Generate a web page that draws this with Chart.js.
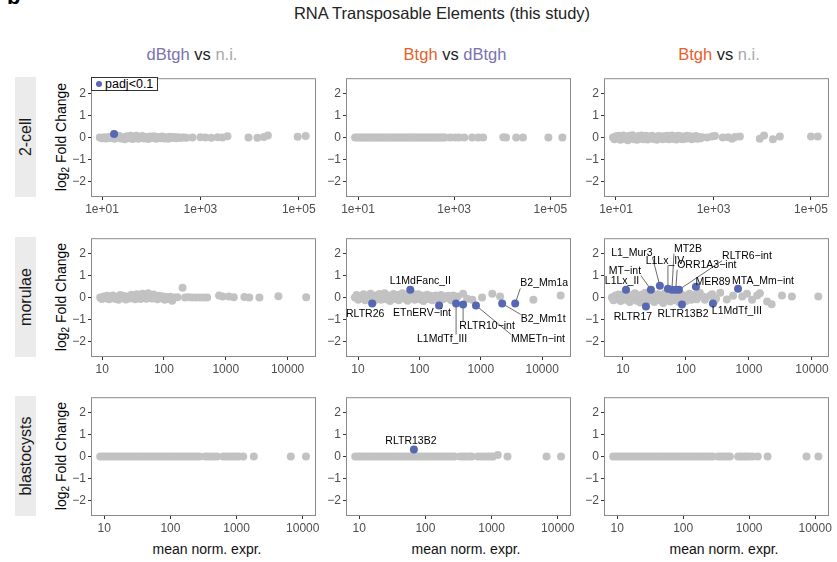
<!DOCTYPE html>
<html lang="en">
<head>
<meta charset="UTF-8">
<title>RNA Transposable Elements (this study)</title>
<script src="https://cdn.jsdelivr.net/npm/chart.js"></script>
<style>
  body { margin: 0; background: #fff; font-family: "Liberation Sans", Arial, sans-serif; }
  #fig { position: relative; width: 837px; height: 562px; overflow: hidden; }
  #fig canvas { position: absolute; }
  .t { position: absolute; white-space: nowrap; line-height: 20px; }
  .rot { position: absolute; white-space: nowrap; transform: translate(-50%, -50%) rotate(-90deg); }
  .strip { position: absolute; left: 15px; width: 21px; height: 120px; background: #ebebeb; }
  .ytitle { font-size: 14px; color: #000; }
  .ytitle sub { font-size: 10px; vertical-align: -3px; line-height: 0; }
  .xtitle { font-size: 14px; color: #111; transform: translateX(-50%); }
  .ctitle { font-size: 16.5px; transform: translateX(-50%); }
  .blue { color: #7a72b2; } .orange { color: #e8602c; } .grey { color: #a8a8a8; } .vs { color: #222; }
  #legend { position: absolute; left: 91px; top: 77px; width: 65px; height: 12px; border: 1px solid #333;
            background: #fff; font-size: 12.5px; line-height: 12px; z-index: 2; }
  #legend span { display: inline-block; width: 6px; height: 6px; border-radius: 3px; background: #5668b3;
                 margin: 0 3px 0 4px; vertical-align: 1px; }
</style>
</head>
<body>
<div id="fig">
  <div class="t" style="left:7px;top:-14px;font-size:22px;font-weight:bold;line-height:22px;">b</div>
  <div class="t" style="left:442px;top:3px;font-size:16.5px;color:#222;transform:translateX(-50%);">RNA Transposable Elements (this study)</div>

  <div class="t ctitle" style="left:192px;top:44px;"><span class="blue">dBtgh</span> <span class="vs">vs</span> <span class="grey">n.i.</span></div>
  <div class="t ctitle" style="left:455px;top:44px;"><span class="orange">Btgh</span> <span class="vs">vs</span> <span class="blue">dBtgh</span></div>
  <div class="t ctitle" style="left:719px;top:44px;"><span class="orange">Btgh</span> <span class="vs">vs</span> <span class="grey">n.i.</span></div>

  <div class="strip" style="top:77px;"></div>
  <div class="strip" style="top:237px;"></div>
  <div class="strip" style="top:396px;"></div>
  <div class="rot" style="left:26px;top:137px;font-size:16px;color:#1a1a1a;">2-cell</div>
  <div class="rot" style="left:26px;top:297px;font-size:16px;color:#1a1a1a;">morulae</div>
  <div class="rot" style="left:26px;top:456px;font-size:16px;color:#1a1a1a;">blastocysts</div>

  <div class="rot ytitle" style="left:61px;top:137px;">log<sub>2</sub> Fold Change</div>
  <div class="rot ytitle" style="left:61px;top:297px;">log<sub>2</sub> Fold Change</div>
  <div class="rot ytitle" style="left:61px;top:456px;">log<sub>2</sub> Fold Change</div>

  <div class="t xtitle" style="left:207px;top:539px;">mean norm. expr.</div>
  <div class="t xtitle" style="left:466px;top:539px;">mean norm. expr.</div>
  <div class="t xtitle" style="left:724px;top:539px;">mean norm. expr.</div>

  <div id="legend"><span></span>padj&lt;0.1</div>
</div>

<script>
// ---- data: [mean norm. expr., log2 fold change] ----

// 2-cell
const cell2_dBtgh_ni = [
  [9,0],[10,-0.03],[11,0.02],[12,-0.04],[13.5,0.03],[15,-0.02],[16.5,0.05],[18,-0.05],[20,0.03],[22,0.08],
  [24,-0.04],[26.5,0.02],[29,-0.07],[32,0.06],[35,-0.03],[38,0.09],[42,-0.06],[46,0.04],[50,0.08],[55,-0.05],
  [60,0.02],[66,0.07],[72,-0.04],[79,0.03],[87,-0.06],[95,0.05],[105,-0.02],[115,0.06],[126,-0.05],[138,0.03],
  [152,-0.03],[167,0.05],[183,-0.04],[200,0.02],[220,-0.05],[242,0.04],[265,-0.02],[292,0.03],[320,-0.03],
  [352,0.02],[387,-0.02],[425,0.01],[470,0],[520,-0.01],
  [690,0],[1000,0.02],[1260,0],[1660,-0.01],[2240,0.02],[2800,0],[3550,0.06],[9500,0],[14400,-0.01],
  [19500,0.03],[23500,0.1],[95000,0.04],[138000,0.07]
];
const cell2_dBtgh_ni_sig = [[null, 17.6, 0.17]];

const cell2_Btgh_dBtgh = [
  [8.7,0],[9.5,0],[10.4,0],[11.4,0],[12.5,0],[13.7,0],[15,0],[16.5,0],[18,0],[19.8,0],[21.7,0],[23.8,0],
  [26,0],[28.5,0],[31.3,0],[34.3,0],[37.6,0],[41.2,0],[45,0],[49.5,0],[54,0],[59,0],[65,0],[71,0],[78,0],
  [86,0],[94,0],[103,0],[113,0],[124,0],[136,0],[149,0],[163,0],[179,0],[196,0],[215,0],[236,0],[259,0],
  [284,0],[311,0],[341,0],[374,0],[410,0],[450,0],[494,0],[542,0],[594,0],[640,0],
  [830,0],[1050,0],[1260,0.01],[1620,0],[2370,0],[3160,0],[4000,0],[10500,0.02],[12000,0],[19500,0],
  [27000,0],[91000,0],[178000,0]
];
const cell2_Btgh_dBtgh_sig = [];

const cell2_Btgh_ni = [
  [8.7,0],[9.3,-0.08],[10,0.06],[10.7,-0.03],[11.5,0.09],[12.3,-0.1],[13.2,0.02],[14.2,0.1],[15.2,-0.06],
  [16.3,0.04],[17.5,-0.12],[18.8,0.08],[20.2,-0.02],[21.7,0.11],[23.3,-0.08],[25,0.03],[27,-0.1],[29,0.07],
  [31,-0.04],[33.5,0.1],[36,-0.07],[38.5,0.02],[41.5,0.08],[44.5,-0.09],[48,0.04],[51.5,-0.03],[55,0.09],
  [59,-0.06],[64,0.03],[69,-0.1],[74,0.07],[79,-0.02],[85,0.05],[91,-0.08],[98,0.06],[105,-0.04],[113,0.09],
  [121,-0.07],[130,0.02],[140,0.1],[150,-0.06],[161,0.04],[173,-0.09],[186,0.08],[200,-0.03],[215,0.06],
  [231,-0.08],[248,0.04],[266,-0.05],[286,0.09],[307,-0.02],[330,0.06],[355,-0.07],[381,0.04],[410,-0.04],
  [440,0.07],[473,-0.05],[508,0.03],[545,-0.03],[580,0.02],
  [740,0],[930,0.05],[1070,0.07],[1550,0],[2000,0.02],[2400,-0.05],[2750,0.03],[3470,0.05],[8900,-0.05],
  [10900,0.1],[16600,-0.08],[23000,0.05],[100000,0.05],[138000,0.05]
];
const cell2_Btgh_ni_sig = [];

// morulae
const mor_dBtgh_ni = [
  [9.3,0],[9.9,-0.06],[10.6,0.05],[11.3,-0.03],[12.1,0.08],[13,-0.08],[13.9,0.02],[14.9,0.1],[16,-0.05],
  [17.2,0.04],[18.4,-0.1],[19.7,0.12],[21.1,-0.02],[22.6,0.07],[24.2,-0.09],[26,0.05],[27.8,-0.04],
  [29.8,0.13],[32,0.02],[34.2,-0.08],[36.7,0.15],[39.3,0.06],[42,-0.06],[45,0.18],[48.3,0.08],[51.8,-0.05],
  [55.5,0.2],[59.5,0.1],[63.7,-0.04],[68.3,0.14],[73.2,0.02],[78.4,-0.07],[84,0.08],[90,-0.03],[96.5,0.05],
  [103,-0.1],[111,0.03],[119,-0.06],[127,0.04],[136,-0.14],[146,0],
  [165,0.02],[200,0.45],[220,0],[250,0.02],[285,0],[330,0.01],[380,0],[440,0],[500,0],[780,0.1],[890,0.05],
  [1120,0.05],[1350,0.02],[2000,0.03],[2400,0],[3500,0],[7100,0.06],[20000,0.02]
];
const mor_dBtgh_ni_sig = [];

const mor_Btgh_dBtgh = [
  [8.9,0],[9.5,0.12],[10.1,-0.1],[10.8,0.05],[11.5,-0.02],[12.3,0.15],[13.1,-0.12],[14,0.08],[15,-0.05],
  [16,0.18],[17.1,0.02],[18.3,-0.15],[19.5,0.1],[20.9,-0.04],[22.3,0.16],[23.8,-0.1],[25.4,0.04],[27.2,0.2],
  [29,-0.08],[31,0.1],[33.1,-0.15],[35.4,0.02],[37.8,0.17],[40.4,-0.06],[43.2,0.12],[46.1,-0.12],[49.3,0.06],
  [52.6,0.2],[56.2,-0.04],[60,0.14],[64,-0.14],[68.5,0.08],[73,-0.02],[78,0.18],[83.5,-0.1],[89,0.05],
  [95,0.15],[102,-0.08],[109,0.1],[116,-0.16],[124,0.02],[133,0.13],[142,-0.06],[151,0.08],[162,-0.12],
  [173,0.04],[185,0.1],[197,-0.05],[211,0.02],[225,0.12],[240,-0.08],[257,0.05],[275,-0.02],[294,0.08],
  [330,-0.12],[355,0.1],[420,0.05],[515,0.18],[600,-0.05],[730,-0.1],[1050,0],[1540,0.18],[2060,0.05],
  [7200,-0.1],[20000,0.1]
];
const mor_Btgh_dBtgh_sig = [
  ['RLTR26', 17, -0.27], ['L1MdFanc_II', 71, 0.36], ['ETnERV\u2212int', 209, -0.36],
  ['L1MdTf_III', 396, -0.27], ['RLTR10\u2212int', 515, -0.32], ['MMETn\u2212int', 835, -0.36],
  ['B2_Mm1t', 2230, -0.27], ['B2_Mm1a', 3640, -0.27]
];

const mor_Btgh_ni = [
  [6.7,0],[7.1,-0.12],[7.6,0.1],[8.1,-0.05],[8.6,0.14],[9.2,-0.15],[9.8,0.03],[10.5,0.18],[11.2,-0.1],
  [12,0.06],[12.8,-0.2],[13.6,0.12],[14.5,-0.04],[15.5,0.2],[16.5,-0.14],[17.6,0.05],[18.8,-0.22],[20,0.14],
  [21.4,-0.06],[22.8,0.22],[24.3,-0.16],[26,0.08],[27.7,-0.1],[29.5,0.18],[31.5,-0.2],[33.6,0.02],[35.8,0.15],
  [38.2,-0.12],[40.8,0.1],[43.5,-0.25],[46.4,0.2],[49.5,-0.05],[52.8,0.12],[56.3,-0.18],[60,0.06],[64,0.2],
  [68.3,-0.12],[72.8,0.03],[77.7,-0.2],[82.9,0.15],[88.4,-0.05],[94.3,0.1],[100,-0.15],[107,0.05],[114,0.18],
  [122,-0.1],[130,0.02],[139,0.12],[148,-0.08],[158,0.05],
  [166,0.22],[186,0.05],[200,-0.1],[240,0.09],[260,0.15],[280,-0.15],[300,-0.05],[350,0.22],[445,-0.09],
  [560,0.09],[780,0.05],[930,0.18],[1120,-0.1],[1350,0.1],[1490,0.2],[1940,-0.18],[2290,-0.3],[3340,0.1],
  [4800,0.05],[12600,0.05]
];
const mor_Btgh_ni_sig = [
  ['L1Lx_II', 11.2, 0.36], ['MT\u2212int', 27.8, 0.36], ['L1_Mur3', 38.6, 0.54], ['L1Lx_IV', 51.8, 0.41],
  ['MT2B', 60, 0.36], ['ORR1A3\u2212int', 69, 0.36], ['RLTR6\u2212int', 77.5, 0.36], ['MER89', 144, 0.5],
  ['MTA_Mm\u2212int', 670, 0.41], ['RLTR17', 23.2, -0.41], ['RLTR13B2', 86.5, -0.32], ['L1MdTf_III', 268, -0.27]
];

// blastocysts
const bla_dBtgh_ni = [
  [8.7,0],[9.6,0],[10.5,0],[11.6,0],[12.8,0],[14,0],[15.5,0],[17,0],[18.8,0],[20.7,0],[22.8,0],[25,0],
  [27.6,0],[30.4,0],[33.5,0],[36.8,0],[40.5,0],[44.6,0],[49,0],[54,0],[59.5,0],[65.5,0],[72,0],[79,0],
  [87,0],[96,0],[106,0],[116,0],[128,0],[141,0],[155,0],[171,0],[188,0],[207,0],[228,0],[251,0],[276,0],
  [335,0],[370,0],[410,0],[460,0],[510,0],[630,0],[700,0],[780,0],[870,0],[960,0],[1070,0],[1260,0],
  [1820,0],[6600,0],[11200,0]
];
const bla_dBtgh_ni_sig = [];

const bla_Btgh_dBtgh = [
  [8.7,0],[9.6,0],[10.5,0],[11.6,0],[12.8,0],[14,0],[15.5,0],[17,0],[18.8,0],[20.7,0],[22.8,0],[25,0],
  [27.6,0],[30.4,0],[33.5,0],[36.8,0],[40.5,0],[44.6,0],[49,0],[54,0],[59.5,0],[65.5,0],[72,0],[79,0],
  [87,0],[96,0],[106,0],[116,0],[128,0],[141,0],[155,0],[171,0],[188,0],[207,0],[228,0],[251,0],[275,0],
  [335,0],[370,0],[410,0],[460,0],[500,0],[620,0],[690,0],[770,0],[860,0],[950,0],[1050,0],[1240,0.07],
  [1740,0],[6760,0],[11200,0]
];
const bla_Btgh_dBtgh_sig = [['RLTR13B2', 67, 0.32]];

const bla_Btgh_ni = [
  [8.7,0],[9.6,0],[10.5,0],[11.6,0],[12.8,0],[14,0],[15.5,0],[17,0],[18.8,0],[20.7,0],[22.8,0],[25,0],
  [27.6,0],[30.4,0],[33.5,0],[36.8,0],[40.5,0],[44.6,0],[49,0],[54,0],[59.5,0],[65.5,0],[72,0],[79,0],
  [87,0],[96,0],[106,0],[116,0],[128,0],[141,0],[155,0],[171,0],[188,0],[207,0],[228,0],[251,0],[280,0],
  [340,0],[375,0],[415,0],[465,0],[510,0],[680,0],[750,0],[830,0],[910,0],[1000,0],[1120,0],[1350,0],
  [1900,0],[7400,0],[11200,0]
];
const bla_Btgh_ni_sig = [];

// axes
const yTicks = [-2, -1, 0, 1, 2];
const yLimits = [-2.72, 2.72];
const xTicksTop = [10, 1000, 100000];
const xTickTextTop = ['1e+01', '1e+03', '1e+05'];
const xTicksLow = [10, 100, 1000, 10000];
const xTickTextLow = ['10', '100', '1000', '10000'];
// log10 of the x-axis limits, panel by panel (row-major)
const xLimitsLog = [[0.776, 5.35], [0.75, 5.43], [0.754, 5.37],
                    [0.82, 4.46], [0.804, 4.47], [0.70, 4.27],
                    [0.80, 4.2], [0.80, 4.2], [0.80, 4.21]];

// label placement (px from the point): [dx, dy, leader line]
const morBvsD_offsets = {
  'RLTR26': [-7, 11, 0], 'L1MdFanc_II': [10, -9, 0], 'ETnERV\u2212int': [-17, 8, 0],
  'L1MdTf_III': [-14, 36, 1], 'RLTR10\u2212int': [24, 22, 1], 'MMETn\u2212int': [62, 34, 1],
  'B2_Mm1t': [41, 16, 1], 'B2_Mm1a': [29, -20, 1]
};
const morBvsN_offsets = {
  'L1Lx_II': [-4, -9, 0], 'MT\u2212int': [-26, -19, 1], 'L1_Mur3': [-28, -33, 1], 'L1Lx_IV': [-3, -28, 1],
  'MT2B': [16, -41, 1], 'ORR1A3\u2212int': [31, -25, 1], 'RLTR6\u2212int': [68, -34, 1],
  'MER89': [17, -5, 0], 'MTA_Mm\u2212int': [25, -8, 0], 'RLTR17': [-13, 11, 0],
  'RLTR13B2': [1, 10, 0], 'L1MdTf_III': [24, 8, 0]
};
const blaBvsD_offsets = { 'RLTR13B2': [-3, -9, 0] };

// ---- layout ----
const colLeft = [91, 346, 604];
const rowTop = [77, 237, 396];
const PW = 225, PH = 120, AX_W = 30, AX_H = 22, PAD_T = 8, PAD_R = 18;
const GREY = '#c2c2c2', BLUE = '#5668b3';
const FONT = '"Liberation Sans", Arial, sans-serif';
Chart.defaults.font.family = FONT;

const frame = {
  id: 'frame',
  afterDatasetsDraw(chart) {
    const a = chart.chartArea, ctx = chart.ctx;
    ctx.save();
    ctx.strokeStyle = '#8a8a8a';
    ctx.lineWidth = 1;
    ctx.strokeRect(a.left + 0.5, a.top + 0.5, a.right - a.left - 1, a.bottom - a.top - 1);
    ctx.restore();
  }
};

function labeler(sig, offsets) {
  const place = (chart, s) => {
    const o = offsets[s[0]];
    const px = chart.scales.x.getPixelForValue(s[1]);
    const py = chart.scales.y.getPixelForValue(s[2]);
    return { px, py, lx: px + o[0], ly: py + o[1], line: o[2] };
  };
  return {
    id: 'labels',
    beforeDatasetsDraw(chart) {
      const ctx = chart.ctx;
      ctx.save();
      ctx.font = '10.5px ' + FONT;
      ctx.strokeStyle = '#444';
      ctx.lineWidth = 0.8;
      sig.forEach(s => {
        if (!s[0] || !offsets[s[0]]) return;
        const p = place(chart, s);
        if (!p.line) return;
        const hw = ctx.measureText(s[0]).width / 2;
        const ex = Math.max(p.lx - hw, Math.min(p.lx + hw, p.px));
        const ey = Math.max(p.ly - 5, Math.min(p.ly + 5, p.py));
        ctx.beginPath();
        ctx.moveTo(p.px, p.py);
        ctx.lineTo(ex, ey);
        ctx.stroke();
      });
      ctx.restore();
    },
    afterDatasetsDraw(chart) {
      const ctx = chart.ctx;
      ctx.save();
      ctx.font = '10.5px ' + FONT;
      ctx.fillStyle = '#000';
      ctx.textAlign = 'center';
      ctx.textBaseline = 'middle';
      sig.forEach(s => {
        if (!s[0] || !offsets[s[0]]) return;
        const p = place(chart, s);
        ctx.fillText(s[0], p.lx, p.ly);
      });
      ctx.restore();
    }
  };
}

function panel(i, grey, sig, offsets) {
  const r = Math.floor(i / 3), c = i % 3;
  const cv = document.createElement('canvas');
  cv.width = PW + AX_W + PAD_R;
  cv.height = PH + PAD_T + AX_H;
  cv.style.left = (colLeft[c] - AX_W) + 'px';
  cv.style.top = (rowTop[r] - PAD_T) + 'px';
  document.getElementById('fig').appendChild(cv);
  const xt = r === 0 ? xTicksTop : xTicksLow;
  const xl = r === 0 ? xTickTextTop : xTickTextLow;
  const tickFont = { size: 12, family: FONT };
  new Chart(cv, {
    type: 'scatter',
    data: {
      datasets: [
        { data: sig.map(s => ({ x: s[1], y: s[2] })), backgroundColor: BLUE, pointRadius: 4, borderWidth: 0 },
        { data: grey.map(p => ({ x: p[0], y: p[1] })), backgroundColor: GREY, pointRadius: 4, borderWidth: 0 }
      ]
    },
    options: {
      responsive: false,
      animation: false,
      events: [],
      layout: { padding: { left: 0, top: PAD_T, right: PAD_R, bottom: 0 } },
      plugins: { legend: { display: false }, tooltip: { enabled: false } },
      scales: {
        x: {
          type: 'logarithmic',
          min: Math.pow(10, xLimitsLog[i][0]),
          max: Math.pow(10, xLimitsLog[i][1]),
          afterBuildTicks: s => { s.ticks = xt.map(v => ({ value: v })); },
          afterFit: s => { s.height = AX_H; },
          ticks: { callback: v => xl[xt.indexOf(v)], font: tickFont, color: '#4d4d4d',
                   padding: 2, maxRotation: 0, autoSkip: false },
          grid: { drawOnChartArea: false, tickLength: 3, color: '#333' },
          border: { display: false }
        },
        y: {
          min: yLimits[0],
          max: yLimits[1],
          afterBuildTicks: s => { s.ticks = yTicks.map(v => ({ value: v })); },
          afterFit: s => { s.width = AX_W; },
          ticks: { callback: v => (v < 0 ? '\u2212' + Math.abs(v) : String(v)), font: tickFont,
                   color: '#4d4d4d', padding: 2 },
          grid: { drawOnChartArea: false, tickLength: 3, color: '#333' },
          border: { display: false }
        }
      }
    },
    plugins: [frame, labeler(sig, offsets || {})]
  });
}

panel(0, cell2_dBtgh_ni, cell2_dBtgh_ni_sig);
panel(1, cell2_Btgh_dBtgh, cell2_Btgh_dBtgh_sig);
panel(2, cell2_Btgh_ni, cell2_Btgh_ni_sig);
panel(3, mor_dBtgh_ni, mor_dBtgh_ni_sig);
panel(4, mor_Btgh_dBtgh, mor_Btgh_dBtgh_sig, morBvsD_offsets);
panel(5, mor_Btgh_ni, mor_Btgh_ni_sig, morBvsN_offsets);
panel(6, bla_dBtgh_ni, bla_dBtgh_ni_sig);
panel(7, bla_Btgh_dBtgh, bla_Btgh_dBtgh_sig, blaBvsD_offsets);
panel(8, bla_Btgh_ni, bla_Btgh_ni_sig);
</script>
</body>
</html>
